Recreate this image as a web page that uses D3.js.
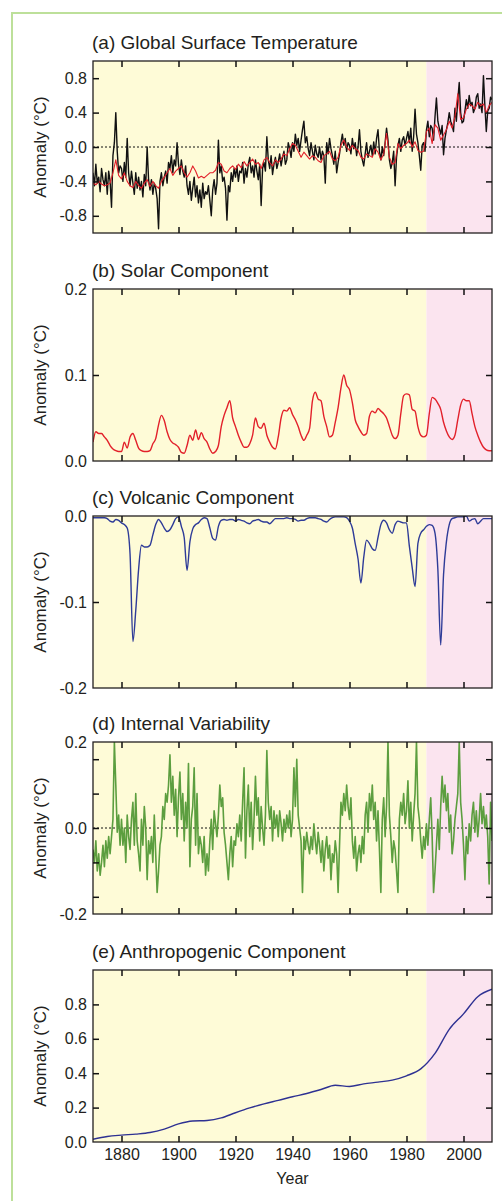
<!DOCTYPE html>
<html>
<head>
<meta charset="utf-8">
<script src="https://cdn.jsdelivr.net/npm/d3@7"></script>
<style>
  body { margin: 0; background: #fff; }
  svg text { font-family: "Liberation Sans", Arial, Helvetica, sans-serif; fill: #231f20; }
</style>
</head>
<body>
<svg id="chart" width="502" height="1201"></svg>
<script>
// ---- data ----
var yearStart = 1870, yearEnd = 2010, shadeStart = 1987;
var xTickYears = [1880, 1900, 1920, 1940, 1960, 1980, 2000];

var annualYears = d3.range(1870, 2011);
var halfYears = d3.range(0, 281).map(i => 1870 + i / 2);
var anthroYears = d3.range(1870, 2011, 5);

// (a) observed temperature (black), half-yearly
var observed = [
  -0.30,-0.45,-0.20,-0.42,-0.35,-0.52,-0.25,-0.38,-0.45,-0.30,-0.55,-0.28,-0.40,-0.70,-0.10,0.05,0.40,-0.05,-0.30,-0.22,
  -0.25,-0.40,-0.18,-0.35,0.10,-0.30,-0.45,-0.28,-0.42,-0.55,-0.30,-0.48,-0.35,-0.50,-0.40,-0.58,-0.32,-0.45,0.00,-0.38,
  -0.50,-0.38,-0.55,-0.42,-0.48,-0.60,-0.95,-0.40,-0.30,-0.45,-0.35,-0.28,-0.42,-0.18,-0.25,-0.10,-0.30,-0.15,-0.22,0.05,
  -0.20,-0.32,-0.15,-0.28,-0.35,-0.22,-0.45,-0.55,-0.40,-0.62,-0.48,-0.35,-0.58,-0.45,-0.65,-0.50,-0.70,-0.42,-0.60,-0.52,
  -0.55,-0.45,-0.62,-0.80,-0.50,-0.38,-0.55,-0.42,0.08,-0.30,-0.22,-0.40,-0.35,-0.48,-0.85,-0.45,-0.52,-0.30,-0.40,-0.25,
  -0.35,-0.22,-0.40,-0.28,-0.30,-0.18,-0.42,-0.25,-0.35,-0.20,-0.12,-0.30,-0.22,-0.35,-0.15,-0.28,-0.38,-0.20,-0.68,-0.25,
  -0.18,-0.28,0.12,-0.15,-0.25,-0.10,-0.32,-0.20,-0.12,-0.25,-0.18,-0.08,-0.22,-0.12,-0.05,-0.20,-0.15,0.05,-0.02,-0.12,
  0.05,-0.05,0.15,0.02,0.10,-0.05,0.08,0.20,0.30,0.05,0.12,-0.02,-0.10,0.05,-0.05,-0.15,0.02,-0.08,-0.12,0.00,
  -0.15,-0.05,-0.10,-0.42,0.05,-0.08,0.10,-0.02,-0.10,-0.20,-0.05,-0.30,-0.18,-0.08,0.05,0.15,0.02,0.10,-0.05,0.05,
  0.02,-0.08,0.10,-0.02,0.05,-0.10,0.00,0.20,-0.05,-0.15,-0.22,-0.08,0.05,-0.12,-0.05,0.02,-0.10,0.06,-0.08,0.10,
  0.20,-0.05,-0.15,0.00,-0.10,0.05,0.22,0.08,-0.15,-0.25,-0.18,-0.05,-0.45,-0.12,0.02,0.10,-0.05,0.08,0.12,0.02,
  0.10,0.18,0.05,0.22,-0.05,0.12,0.44,0.15,0.05,-0.10,-0.27,0.02,0.05,-0.05,0.20,0.30,0.12,0.25,0.22,0.08,
  0.35,0.57,0.30,0.22,0.15,0.25,-0.09,0.10,0.20,0.28,0.40,0.30,0.25,0.18,0.45,0.30,0.55,0.75,0.40,0.28,
  0.30,0.42,0.55,0.45,0.60,0.48,0.52,0.40,0.45,0.58,0.62,0.45,0.50,0.40,0.83,0.48,0.18,0.42,0.45,0.58,
  0.55
];

// (a) model (red), yearly
var modelled = [
  -0.42,-0.44,-0.40,-0.43,-0.45,-0.44,-0.42,-0.30,-0.15,-0.33,
  -0.37,-0.30,-0.40,-0.45,-0.47,-0.40,-0.45,-0.48,-0.42,-0.38,
  -0.46,-0.40,-0.45,-0.48,-0.40,-0.35,-0.30,-0.25,-0.33,-0.28,
  -0.25,-0.22,-0.30,-0.35,-0.30,-0.22,-0.28,-0.36,-0.34,-0.36,
  -0.33,-0.30,-0.30,-0.27,-0.18,-0.20,-0.28,-0.30,-0.25,-0.22,
  -0.26,-0.20,-0.24,-0.17,-0.22,-0.18,-0.14,-0.20,-0.18,-0.25,
  -0.15,-0.12,-0.18,-0.22,-0.15,-0.18,-0.14,-0.08,-0.10,-0.02,
  0.04,0.02,-0.05,-0.12,-0.06,-0.10,-0.14,-0.10,-0.12,-0.16,
  -0.18,-0.10,-0.08,-0.05,-0.14,-0.16,-0.12,0.02,0.08,0.00,
  -0.04,0.02,-0.02,-0.04,-0.12,-0.14,-0.08,-0.10,-0.12,-0.02,
  -0.06,-0.15,-0.08,0.16,-0.12,-0.20,-0.18,0.04,-0.02,0.02,
  0.04,0.08,0.00,0.06,-0.04,-0.06,-0.05,0.18,0.22,0.04,
  0.26,0.22,0.08,0.14,0.20,0.30,0.22,0.35,0.62,0.32,
  0.34,0.44,0.50,0.48,0.44,0.52,0.48,0.50,0.40,0.48,0.52
];

// (b) solar component, yearly
var solar = [
  0.022,0.034,0.032,0.032,0.028,0.024,0.018,0.014,0.012,0.011,
  0.011,0.022,0.015,0.028,0.032,0.024,0.015,0.012,0.011,0.011,
  0.012,0.020,0.026,0.042,0.053,0.047,0.034,0.025,0.021,0.019,
  0.016,0.010,0.009,0.018,0.030,0.024,0.036,0.025,0.033,0.026,
  0.022,0.014,0.009,0.011,0.018,0.040,0.053,0.062,0.070,0.050,
  0.040,0.030,0.022,0.016,0.016,0.020,0.030,0.050,0.040,0.038,
  0.044,0.030,0.022,0.016,0.014,0.028,0.050,0.059,0.058,0.062,
  0.054,0.048,0.040,0.030,0.024,0.030,0.038,0.070,0.080,0.072,
  0.070,0.052,0.040,0.028,0.030,0.045,0.062,0.085,0.100,0.088,
  0.083,0.068,0.048,0.040,0.034,0.030,0.032,0.052,0.058,0.056,
  0.061,0.058,0.055,0.050,0.040,0.030,0.026,0.030,0.055,0.076,
  0.078,0.077,0.060,0.058,0.040,0.030,0.028,0.030,0.055,0.074,
  0.072,0.067,0.060,0.045,0.035,0.028,0.025,0.030,0.048,0.065,
  0.072,0.070,0.070,0.055,0.040,0.030,0.022,0.016,0.013,0.012,0.012
];

// (c) volcanic component, yearly
var volcanic = [
  -0.002,-0.002,-0.002,-0.002,-0.002,-0.003,-0.006,-0.007,-0.004,-0.005,
  -0.008,-0.010,-0.014,-0.044,-0.146,-0.110,-0.062,-0.034,-0.036,-0.036,
  -0.034,-0.022,-0.010,-0.004,-0.008,-0.014,-0.018,-0.016,-0.010,-0.003,
  -0.001,-0.012,-0.025,-0.063,-0.030,-0.015,-0.010,-0.008,-0.004,-0.002,
  -0.003,-0.014,-0.026,-0.028,-0.012,-0.005,-0.004,-0.005,-0.004,-0.004,
  -0.006,-0.004,-0.005,-0.006,-0.008,-0.009,-0.006,-0.005,-0.004,-0.006,
  -0.007,-0.007,-0.009,-0.006,-0.003,-0.003,-0.003,-0.003,-0.002,-0.003,
  -0.003,-0.004,-0.006,-0.005,-0.005,-0.003,-0.002,-0.002,-0.002,-0.003,
  -0.004,-0.006,-0.007,-0.004,-0.002,-0.001,-0.001,-0.001,-0.001,-0.002,
  -0.006,-0.014,-0.032,-0.050,-0.078,-0.048,-0.028,-0.032,-0.038,-0.040,
  -0.025,-0.010,-0.005,-0.008,-0.016,-0.020,-0.010,-0.006,-0.007,-0.008,
  -0.008,-0.035,-0.060,-0.082,-0.032,-0.020,-0.016,-0.012,-0.010,-0.011,
  -0.020,-0.062,-0.150,-0.068,-0.030,-0.010,-0.003,-0.002,-0.001,-0.001,
  -0.001,0.000,-0.006,-0.004,-0.003,-0.009,-0.006,-0.003,-0.003,-0.003,-0.003
];

// (d) internal variability, half-yearly
var internal = [
  -0.05,-0.08,-0.03,-0.10,-0.06,-0.11,-0.08,-0.04,-0.09,-0.03,-0.07,-0.02,-0.06,-0.02,0.02,0.20,0.10,-0.01,0.03,-0.04,
  0.02,-0.04,0.00,-0.08,0.03,-0.02,-0.05,0.02,0.06,-0.04,0.08,-0.03,-0.06,-0.10,0.02,-0.04,0.05,0.00,-0.12,-0.03,
  -0.06,-0.02,-0.08,0.03,-0.06,-0.15,-0.10,-0.04,-0.02,0.05,0.02,0.08,0.06,0.10,0.17,0.06,0.12,0.03,0.09,-0.02,
  0.07,0.13,0.02,0.08,-0.03,0.06,0.00,0.15,-0.09,0.02,0.05,0.14,-0.04,0.08,-0.06,-0.02,-0.04,-0.08,-0.02,-0.11,
  -0.06,-0.10,-0.03,0.02,-0.05,0.04,0.01,-0.02,0.03,0.10,0.05,0.07,-0.01,-0.04,-0.08,-0.12,-0.06,-0.02,-0.09,-0.03,
  -0.04,0.01,-0.02,0.03,-0.03,0.06,0.14,-0.07,0.04,0.10,-0.02,0.06,-0.05,0.02,0.12,0.03,0.07,-0.03,0.05,0.00,
  -0.04,0.03,0.18,0.06,0.02,0.05,-0.03,0.04,0.00,0.03,-0.02,0.04,0.01,-0.03,0.02,-0.01,0.03,0.00,0.04,-0.02,
  0.02,0.14,0.05,0.16,0.03,0.00,-0.03,-0.15,-0.02,-0.05,-0.01,-0.04,-0.06,-0.02,-0.05,0.01,-0.03,-0.06,-0.01,-0.04,
  -0.08,-0.03,-0.10,-0.05,-0.02,-0.07,-0.04,-0.12,-0.06,-0.08,-0.03,-0.06,-0.15,-0.04,0.06,0.03,0.08,0.04,0.10,0.05,
  0.02,0.07,-0.03,-0.07,-0.02,-0.10,-0.06,-0.04,-0.08,-0.02,-0.06,0.03,0.06,-0.01,0.08,0.04,0.10,0.02,0.06,-0.03,
  0.04,-0.05,-0.15,0.02,0.07,-0.02,0.05,0.20,0.03,-0.02,-0.08,-0.03,-0.05,-0.10,-0.15,0.02,0.06,0.03,0.08,0.01,
  0.04,0.11,0.00,0.06,-0.03,0.03,0.08,0.20,0.05,0.02,-0.03,-0.07,-0.02,-0.05,0.01,-0.04,0.02,0.07,-0.02,-0.15,
  -0.10,-0.04,0.02,-0.05,0.05,0.12,0.06,0.10,0.04,0.08,-0.01,0.03,-0.06,-0.03,0.02,0.05,0.08,0.20,0.06,0.02,
  -0.04,-0.12,-0.02,-0.06,0.01,-0.03,0.03,0.06,-0.01,0.04,-0.02,0.02,0.08,0.01,0.05,0.00,0.03,-0.02,-0.13,0.06,
  -0.03
];

// (e) anthropogenic component, every 5 years
var anthro = [0.016,0.032,0.040,0.046,0.055,0.075,0.105,0.122,0.125,0.140,0.170,0.198,0.222,0.242,0.263,
              0.282,0.305,0.330,0.323,0.338,0.348,0.360,0.385,0.425,0.515,0.655,0.745,0.845,0.888];

// ---- layout ----
var left = 93, right = 492, panelHeight = 172;
var svg = d3.select("#chart");

// page frame (thin green rule)
svg.append("path")
  .attr("d", "M12,1201 L12,13 L502,13")
  .attr("fill", "none")
  .attr("stroke", "#bde09a")
  .attr("stroke-width", 2);

var x = d3.scaleLinear().domain([yearStart, yearEnd]).range([left, right]);

var panels = [
  { title: "(a) Global Surface Temperature", top: 61, domain: [-1.0, 1.0],
    marks: [-0.8, -0.4, 0, 0.4, 0.8], labels: [-0.8, -0.4, 0, 0.4, 0.8], zero: true,
    series: [
      { xs: halfYears, ys: observed, color: "#111", width: 1.4, curve: d3.curveLinear },
      { xs: annualYears, ys: modelled, color: "#e2202a", width: 1.1, curve: d3.curveLinear }
    ] },
  { title: "(b) Solar Component", top: 289, domain: [0, 0.2],
    marks: [0.1], labels: [0, 0.1, 0.2],
    series: [ { xs: annualYears, ys: solar, color: "#e2202a", width: 1.4, curve: d3.curveMonotoneX } ] },
  { title: "(c) Volcanic Component", top: 516, domain: [-0.2, 0],
    marks: [-0.1], labels: [-0.2, -0.1, 0],
    series: [ { xs: annualYears, ys: volcanic, color: "#2e3b98", width: 1.4, curve: d3.curveMonotoneX } ] },
  { title: "(d) Internal Variability", top: 742, domain: [-0.2, 0.2],
    marks: [-0.16, -0.08, 0, 0.08, 0.16], labels: [-0.2, 0, 0.2], zero: true,
    series: [ { xs: halfYears, ys: internal, color: "#5c9e3f", width: 1.6, curve: d3.curveLinear } ] },
  { title: "(e) Anthropogenic Component", top: 970, domain: [0, 1.0],
    marks: [0.2, 0.4, 0.6, 0.8], labels: [0, 0.2, 0.4, 0.6, 0.8], years: true,
    series: [ { xs: anthroYears, ys: anthro, color: "#2e3192", width: 1.4, curve: d3.curveMonotoneX } ] }
];

panels.forEach(drawPanel);

function drawPanel(p, i) {
  var top = p.top, bottom = p.top + panelHeight;
  var y = d3.scaleLinear().domain(p.domain).range([bottom, top]);
  var g = svg.append("g");

  // shaded periods
  g.append("rect").attr("x", x(yearStart)).attr("y", top)
    .attr("width", x(shadeStart) - x(yearStart)).attr("height", panelHeight)
    .attr("fill", "#fefbd7");
  g.append("rect").attr("x", x(shadeStart)).attr("y", top)
    .attr("width", x(yearEnd) - x(shadeStart)).attr("height", panelHeight)
    .attr("fill", "#fbe4ef");

  var clipId = "clip" + i;
  svg.append("clipPath").attr("id", clipId).append("rect")
    .attr("x", left).attr("y", top).attr("width", right - left).attr("height", panelHeight);

  if (p.zero) {
    g.append("line")
      .attr("x1", left).attr("x2", right).attr("y1", y(0)).attr("y2", y(0))
      .attr("stroke", "#111").attr("stroke-width", 1).attr("stroke-dasharray", "2,2");
  }

  p.series.forEach(function(s) {
    var line = d3.line().x(d => x(d[0])).y(d => y(d[1])).curve(s.curve);
    g.append("path")
      .datum(d3.zip(s.xs, s.ys))
      .attr("clip-path", "url(#" + clipId + ")")
      .attr("fill", "none")
      .attr("stroke", s.color)
      .attr("stroke-width", s.width)
      .attr("stroke-linejoin", "round")
      .attr("d", line);
  });

  // frame
  g.append("rect").attr("x", left).attr("y", top)
    .attr("width", right - left).attr("height", panelHeight)
    .attr("fill", "none").attr("stroke", "#231f20").attr("stroke-width", 1.3);

  // inward tick marks on all four sides
  var marks = [
    [d3.axisBottom(x).tickValues(xTickYears), "translate(0," + bottom + ")"],
    [d3.axisTop(x).tickValues(xTickYears), "translate(0," + top + ")"],
    [d3.axisLeft(y).tickValues(p.marks), "translate(" + left + ",0)"],
    [d3.axisRight(y).tickValues(p.marks), "translate(" + right + ",0)"]
  ];
  marks.forEach(function(m) {
    var a = g.append("g").attr("transform", m[1])
      .call(m[0].tickSize(-6).tickFormat(""));
    a.select(".domain").remove();
    a.selectAll("line").attr("stroke", "#111").attr("stroke-width", 1.5);
  });

  // y labels
  var yl = g.append("g").attr("transform", "translate(" + left + ",0)")
    .call(d3.axisLeft(y).tickValues(p.labels).tickSize(0).tickPadding(6)
      .tickFormat(d => d.toFixed(1)));
  yl.select(".domain").remove();
  yl.attr("font-family", null).attr("font-size", 16);
  yl.selectAll("text").attr("fill", "#231f20");

  if (p.years) {
    var xl = g.append("g").attr("transform", "translate(0," + bottom + ")")
      .call(d3.axisBottom(x).tickValues(xTickYears).tickSize(0).tickPadding(7)
        .tickFormat(d3.format("d")));
    xl.select(".domain").remove();
    xl.attr("font-family", null).attr("font-size", 16);
    xl.selectAll("text").attr("fill", "#231f20");

    g.append("text").attr("x", (left + right) / 2).attr("y", 1184)
      .attr("text-anchor", "middle").attr("font-size", 16).text("Year");
  }

  // title
  g.append("text").attr("x", 92).attr("y", top - 12)
    .attr("font-size", 19).text(p.title);

  // y axis title
  g.append("text")
    .attr("transform", "translate(46," + (top + panelHeight / 2) + ") rotate(-90)")
    .attr("text-anchor", "middle").attr("font-size", 17)
    .text("Anomaly (°C)");
}
</script>
</body>
</html>
